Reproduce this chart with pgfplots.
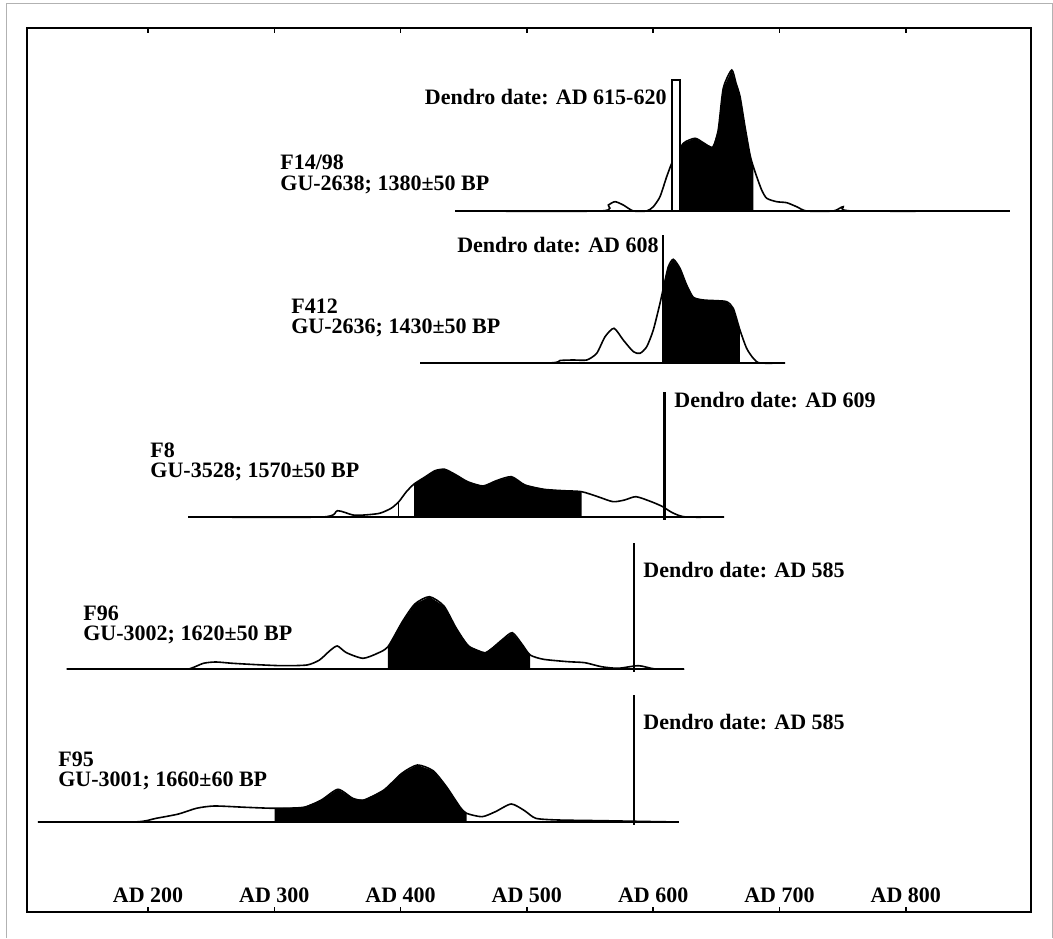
\documentclass[border=0pt]{standalone}
\usepackage{fontspec}
\setmainfont{Liberation Serif}
\usepackage{pgfplots}
\pgfplotsset{compat=1.18}
\usepackage{pgfplotstable}
\usepgfplotslibrary{fillbetween}

% calibrated probability curves, height above each baseline
\pgfplotstableread{
yr h
443.1 0
557.9 0
564.5 6
569.8 9.3
576.3 6
584.3 0
594.9 0
600.1 4.3
605.4 14.3
610.7 34.3
614.7 47.7
617.3 52.7
623.9 67.7
633.1 72.7
639.7 68.3
647.1 63.7
651.5 81
655.5 122.7
662.2 141
665.6 127.7
668.8 114.3
672.7 84.3
676.7 56
679.3 44.3
682.0 34.3
685.9 21
689.9 12.7
697.8 9.3
705.7 8.3
713.6 4.3
721.5 0
742.6 0
750.5 4.3
758.4 0
882.5 0
}\dataA

\pgfplotstableread{
yr h
415.4 0
515.7 0
526.2 2.5
536.8 3
547.4 3
555.3 9.7
561.9 26.3
569.0 34.7
576.3 23
584.3 11.3
589.6 9.7
594.9 16.3
600.1 33
605.4 59.7
608.6 78
612.0 96.3
615.9 103.7
621.2 94.7
626.5 78
631.8 65.7
639.7 63
650.3 62.3
658.2 61.3
663.4 54.7
668.7 33
674.0 14.7
679.3 4.7
684.6 0
704.4 0
}\dataB

\pgfplotstableread{
yr h
231.9 0
337.9 0
350.0 6.3
362.2 2
371.3 2
383.4 3.7
392.5 8.7
398.6 15.3
404.6 25.3
410.7 33
419.7 40.3
427.3 46.3
434.9 47.7
444.0 42
453.1 35.3
465.2 31
475.8 36.3
487.8 40.3
498.5 32
513.6 27.7
528.8 26.3
543.4 25.3
556.2 20.3
568.2 15.3
577.4 17
586.4 20.3
598.5 15.3
607.6 10.3
615.2 4.3
625.8 0
656.1 0
}\dataC

\pgfplotstableread{
yr h
135.6 0
225.0 0
234.0 0.7
243.9 5.7
253.7 7
266.8 5.7
286.5 4.3
306.3 3.3
325.9 4
335.8 9
344.0 18.3
349.9 23
357.1 16.3
370.2 10.7
381.7 15.7
390.0 22.3
401.4 47.3
411.3 65
422.8 72.3
434.3 63
444.1 40.7
453.9 23
467.1 16.3
480.2 29
488.5 36.3
496.6 24
502.6 14
513.1 9.7
532.7 7.3
545.9 6.3
559.0 2.3
572.2 0.7
588.5 3.3
601.7 0
624.6 0
}\dataD

\pgfplotstableread{
yr h
112.8 0
188.8 0
206.5 3.7
224.2 8
238.3 13.7
252.5 16
277.2 14.7
300.2 13.7
323.2 14.7
337.3 22
350.4 32.7
362.1 23.7
370.9 22
386.8 32
401.0 48.7
413.3 57
425.7 51.3
436.3 35.3
446.9 15.3
452.2 8.7
464.5 5.3
475.1 10.3
487.6 18
498.2 11.3
507.0 3.7
524.6 2
560.0 1.3
595.3 0.5
620.1 0
}\dataE

\begin{document}
\begin{tikzpicture}[
    curve/.style={black, line width=0.8pt, smooth, tension=0.4},
    base/.style={black, line width=1pt},
    dendro/.style={black, line width=1.2pt},
    lbl/.style={inner sep=0pt, font=\fontsize{11}{11}\selectfont\bfseries},
]
\begin{axis}[
    scale only axis,
    width=502pt, height=442pt,
    xmin=104.2, xmax=899.2,
    ymin=0, ymax=884,
    clip=false,
    axis line style={line width=1.2pt},
    xtick={200,300,400,500,600,700,800},
    xticklabels={AD 200,AD 300,AD 400,AD 500,AD 600,AD 700,AD 800},
    xticklabel style={anchor=south, yshift=1pt},
    ytick=\empty,
    tick align=inside,
    major tick length=2.5pt,
    every tick/.style={black, line width=0.8pt},
    ticklabel style={font=\fontsize{11}{11}\selectfont\bfseries},
]
% page size and outer scan frame
\path (axis cs:82.8,-26) rectangle (axis cs:916.6,912);
\draw[gray!60, line width=0.5pt] (axis cs:87.6,-26) -- (axis cs:87.6,908)
    -- (axis cs:915.8,908) -- (axis cs:915.8,-26);

% F14/98
\addplot[base, name path=bA] coordinates {(443.1,701) (882.5,701)};
\addplot[draw=none, name path=cA] table[x=yr, y expr=\thisrow{h}+701] {\dataA};
\addplot[black] fill between[of=cA and bA, soft clip={domain=616:679.3}];
\addplot[curve] table[x=yr, y expr=\thisrow{h}+701] {\dataA};
\addplot[line width=1pt, fill=white] coordinates {(615,701) (615,832) (621,832) (621,701)} -- cycle;

% F412
\addplot[base, name path=bB] coordinates {(415.4,549) (704.4,549)};
\addplot[draw=none, name path=cB] table[x=yr, y expr=\thisrow{h}+549] {\dataB};
\addplot[black] fill between[of=cB and bB, soft clip={domain=608:668.7}];
\addplot[curve] table[x=yr, y expr=\thisrow{h}+549] {\dataB};
\addplot[dendro] coordinates {(608,549) (608,677)};

% F8
\addplot[base, name path=bC] coordinates {(231.9,395) (656.1,395)};
\addplot[draw=none, name path=cC] table[x=yr, y expr=\thisrow{h}+395] {\dataC};
\addplot[black] fill between[of=cC and bC, soft clip={domain=410.7:543.4}];
\addplot[curve] table[x=yr, y expr=\thisrow{h}+395] {\dataC};
\addplot[black, line width=0.6pt] coordinates {(398.6,395) (398.6,410)};
\addplot[dendro] coordinates {(609,392) (609,520)};

% F96
\addplot[base, name path=bD] coordinates {(135.6,243) (624.6,243)};
\addplot[draw=none, name path=cD] table[x=yr, y expr=\thisrow{h}+243] {\dataD};
\addplot[black] fill between[of=cD and bD, soft clip={domain=390:502.6}];
\addplot[curve] table[x=yr, y expr=\thisrow{h}+243] {\dataD};
\addplot[dendro] coordinates {(585,240) (585,369)};

% F95
\addplot[base, name path=bE] coordinates {(112.8,90) (620.1,90)};
\addplot[draw=none, name path=cE] table[x=yr, y expr=\thisrow{h}+90] {\dataE};
\addplot[black] fill between[of=cE and bE, soft clip={domain=300.2:452.2}];
\addplot[curve] table[x=yr, y expr=\thisrow{h}+90] {\dataE};
\addplot[dendro] coordinates {(585,87) (585,217)};

% dendro dates
\node[lbl, anchor=east] at (axis cs:610.9,815) {Dendro date: AD 615-620};
\node[lbl, anchor=east] at (axis cs:604.6,667) {Dendro date: AD 608};
\node[lbl, anchor=west] at (axis cs:616.5,512) {Dendro date: AD 609};
\node[lbl, anchor=west] at (axis cs:592,342) {Dendro date: AD 585};
\node[lbl, anchor=west] at (axis cs:592,190) {Dendro date: AD 585};

% sample labels
\node[lbl, anchor=west] at (axis cs:304.5,750) {F14/98};
\node[lbl, anchor=west] at (axis cs:304.5,727) {GU-2638; 1380±50 BP};
\node[lbl, anchor=west] at (axis cs:313.2,606) {F412};
\node[lbl, anchor=west] at (axis cs:313.2,584) {GU-2636; 1430±50 BP};
\node[lbl, anchor=west] at (axis cs:201.6,462) {F8};
\node[lbl, anchor=west] at (axis cs:201.6,440) {GU-3528; 1570±50 BP};
\node[lbl, anchor=west] at (axis cs:148.5,299) {F96};
\node[lbl, anchor=west] at (axis cs:148.5,277) {GU-3002; 1620±50 BP};
\node[lbl, anchor=west] at (axis cs:128.7,153) {F95};
\node[lbl, anchor=west] at (axis cs:128.7,131) {GU-3001; 1660±60 BP};
\end{axis}
\end{tikzpicture}
\end{document}
